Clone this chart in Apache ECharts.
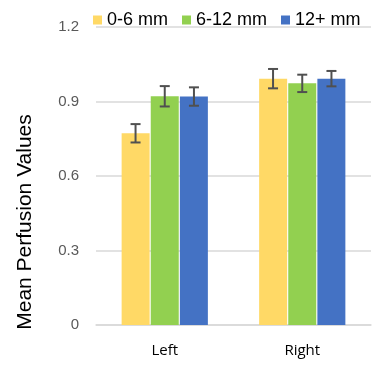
<!DOCTYPE html>
<html><head><meta charset="utf-8">
<script src="https://cdn.jsdelivr.net/npm/echarts@6/dist/echarts.min.js"></script>
<style>html,body{margin:0;padding:0;background:#fff}#c{width:377px;height:387px}</style>
</head><body><div id="c"></div>
<script>
var categories = ['Left', 'Right'];
var seriesNames = ['0-6 mm', '6-12 mm', '12+ mm'];
var vals06 = [0.772, 0.992];
var vals612 = [0.921, 0.973];
var vals12p = [0.920, 0.992];
var err06 = [0.037, 0.039];
var err612 = [0.041, 0.035];
var err12p = [0.037, 0.031];
var yTicks = [0, 0.3, 0.6, 0.9, 1.2];

var colors = ['#FFD966', '#92D050', '#4472C4'];
var values = [vals06, vals612, vals12p];
var errs = [err06, err612, err12p];
var BW = 28, GAP = 1.2;

var series = [];
values.forEach(function (v, i) {
  series.push({
    name: seriesNames[i], type: 'bar', data: v, barWidth: BW, barGap: '4%',
    itemStyle: { color: colors[i] }, z: 2
  });
});
values.forEach(function (v, i) {
  var d = v.map(function (val, k) { return [k, val - errs[i][k], val + errs[i][k]]; });
  series.push({
    type: 'custom', data: d, z: 5, silent: true,
    renderItem: function (params, api) {
      var lo = api.coord([api.value(0), api.value(1)]);
      var hi = api.coord([api.value(0), api.value(2)]);
      var x = lo[0] + (i - 1) * (BW + GAP);
      var cw = 5;
      var st = { stroke: '#505050', lineWidth: 2 };
      return { type: 'group', children: [
        { type: 'line', shape: { x1: x, y1: lo[1], x2: x, y2: hi[1] }, style: st },
        { type: 'line', shape: { x1: x - cw, y1: lo[1], x2: x + cw, y2: lo[1] }, style: st },
        { type: 'line', shape: { x1: x - cw, y1: hi[1], x2: x + cw, y2: hi[1] }, style: st }
      ]};
    }
  });
});

var chart = echarts.init(document.getElementById('c'));
chart.setOption({
  animation: false,
  textStyle: { fontFamily: 'Liberation Sans, Arial, sans-serif' },
  legend: {
    data: seriesNames, left: 88, top: 6, itemWidth: 9, itemHeight: 9, itemGap: 14,
    icon: 'rect',
    textStyle: { fontSize: 18, color: '#000' }
  },
  grid: { left: 96, right: 6, top: 27, bottom: 62 },
  xAxis: {
    type: 'category', data: categories,
    axisLine: { lineStyle: { color: '#D9D9D9', width: 1.5 } },
    axisTick: { show: false },
    axisLabel: { fontSize: 15, color: '#000', margin: 18, fontFamily: 'Open Sans, sans-serif' }
  },
  yAxis: {
    type: 'value', min: 0, max: 1.2, interval: 0.3,
    name: 'Mean Perfusion Values', nameLocation: 'middle', nameGap: 60,
    nameTextStyle: { fontSize: 21, color: '#000', padding: [0, 92, 0, 0] },
    axisLine: { show: false }, axisTick: { show: false },
    axisLabel: { fontSize: 15, color: '#595959', margin: 17,
      formatter: function (v) { return yTicks.indexOf(Math.round(v * 10) / 10) >= 0 ? String(Math.round(v * 10) / 10) : ''; } },
    splitLine: { lineStyle: { color: '#D9D9D9', width: 1.5 } }
  },
  series: series
});
</script></body></html>
